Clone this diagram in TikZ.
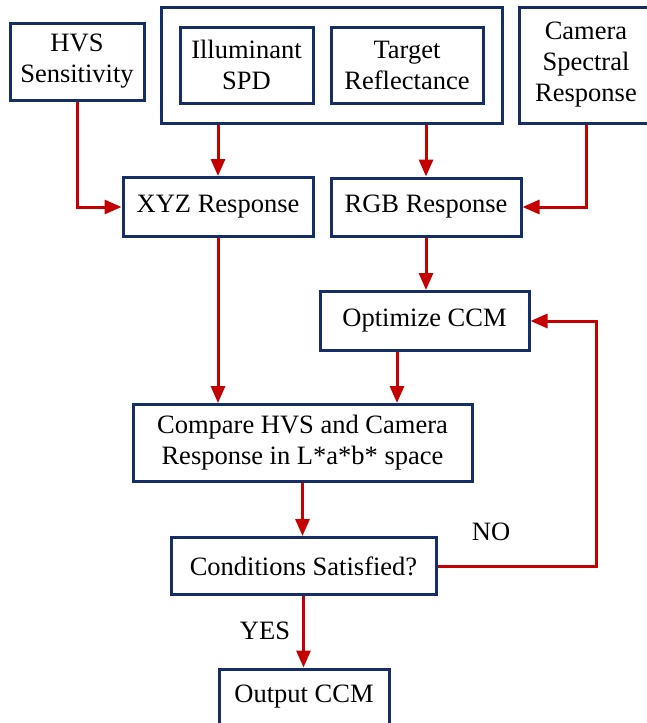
\documentclass[tikz,border=0pt]{standalone}
\usepackage{fontspec}
\setmainfont{Liberation Serif}
\usetikzlibrary{arrows.meta}
\definecolor{navy}{RGB}{22,46,104}
\definecolor{arrowred}{RGB}{196,0,0}
\tikzset{
  box/.style={draw=navy, line width=3pt, fill=white, align=center, inner sep=0pt,
    font=\fontsize{26.5}{31}\selectfont},
  flow/.style={draw=arrowred, line width=3pt, -{Triangle[length=17pt,width=14pt]}},
  tag/.style={font=\fontsize{26.5}{31}\selectfont}
}
\begin{document}
\begin{tikzpicture}[x=1pt, y=-1pt]
      \clip (0,0) rectangle (647,723);
      \draw
        (77,61.5) node[box, minimum width=134pt, minimum height=77pt] (hvs){HVS\\Sensitivity}
        (331.5,65) node[box, minimum width=341pt, minimum height=116pt] (group){}
        (246.5,65) node[box, minimum width=133pt, minimum height=76pt] (illum){Illuminant\\SPD}
        (407,65) node[box, minimum width=152pt, minimum height=76pt] (target){Target\\Reflectance}
        (586,65) node[box, minimum width=134pt, minimum height=116pt] (camera){Camera\\Spectral\\Response}
        (218,207) node[box, minimum width=190pt, minimum height=59pt] (xyz){XYZ Response}
        (426,207) node[box, minimum width=190pt, minimum height=58pt] (rgb){RGB Response}
        (424.5,321) node[box, minimum width=209pt, minimum height=59pt] (opt){Optimize CCM}
        (302.5,443) node[box, minimum width=339pt, minimum height=77pt] (cmp){Compare HVS and Camera\\Response in L*a*b* space}
        (303.5,566) node[box, minimum width=265pt, minimum height=57pt] (cond){Conditions Satisfied?}
        (304,697) node[box, minimum width=170pt, minimum height=56pt] (out){Output CCM};
      \coordinate (back) at (596,566);
      \begin{scope}[flow]
        \draw (hvs.south) |- (xyz.west);
        \draw (group.south -| xyz.north) -- (xyz.north);
        \draw (group.south -| rgb.north) -- (rgb.north);
        \draw (camera.south) |- (rgb.east);
        \draw (rgb.south) -- (rgb.south |- opt.north);
        \draw (xyz.south) -- (xyz.south |- cmp.north);
        \draw ([xshift=-27.5pt]opt.south) -- ([xshift=-27.5pt]opt.south |- cmp.north);
        \draw (cmp.south) -- (cmp.south |- cond.north);
        \draw (cond.east) -- (back) |- (opt.east);
        \draw (cond.south) -- (cond.south |- out.north);
      \end{scope}
      \node[tag] (no) at (491,532) {NO};
      \node[tag] (yes) at (265,631) {YES};
    \end{tikzpicture}
\end{document}
